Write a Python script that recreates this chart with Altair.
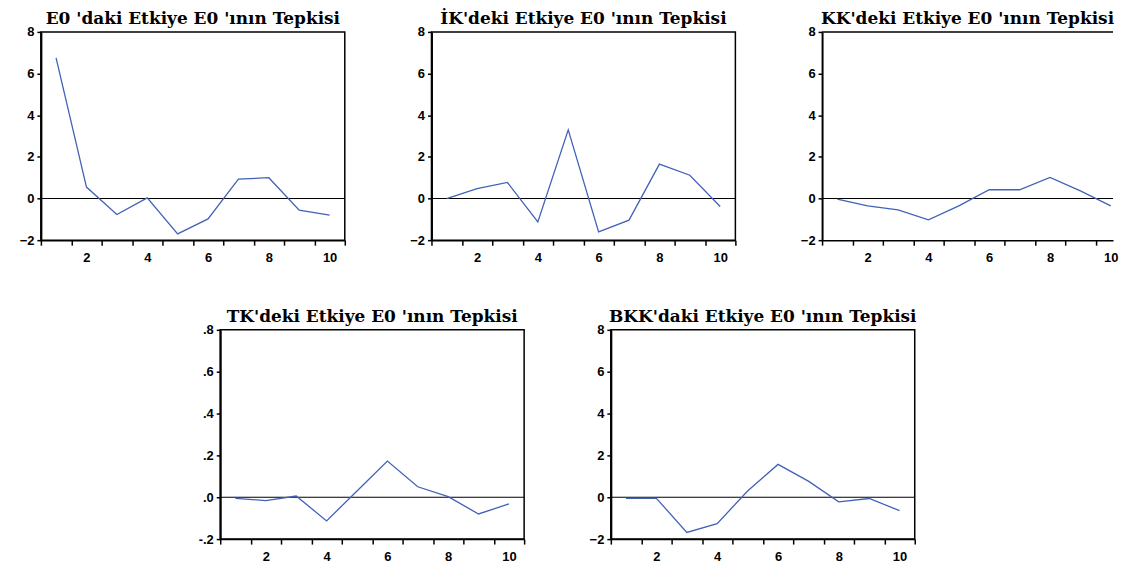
import altair as alt
import pandas as pd

periods = list(range(1, 11))

e0_resp = [6.75, 0.55, -0.77, 0.03, -1.70, -0.98, 0.93, 1.00, -0.56, -0.80]
ik_resp = [0.00, 0.48, 0.77, -1.12, 3.30, -1.60, -1.04, 1.65, 1.12, -0.38]
kk_resp = [-0.03, -0.35, -0.55, -1.02, -0.35, 0.42, 0.42, 1.01, 0.37, -0.35]
tk_resp = [-0.05, -0.16, 0.06, -1.13, 0.30, 1.73, 0.50, 0.03, -0.80, -0.32]
bkk_resp = [-0.05, -0.05, -1.68, -1.26, 0.30, 1.57, 0.77, -0.22, -0.06, -0.64]

titles = [
    "E0 'daki Etkiye E0 'ının Tepkisi",
    "İK'deki Etkiye E0 'ının Tepkisi",
    "KK'deki Etkiye E0 'ının Tepkisi",
    "TK'deki Etkiye E0 'ının Tepkisi",
    "BKK'daki Etkiye E0 'ının Tepkisi",
]

y_ticks = [-2, 0, 2, 4, 6, 8]
x_ticks = [0.5, 1.5, 2.5, 3.5, 4.5, 5.5, 6.5, 7.5, 8.5, 9.5, 10.5]

LINE_COLOR = "#4262b8"
W = 305
H = 209
UNIT = W / 10.0

x_label_expr = "(datum.value + 0.5) % 2 == 0 ? format(datum.value + 0.5, 'd') : ''"
y_label_plain = "format(datum.value, 'd')"
y_label_dot = "datum.value == 0 ? '.0' : (datum.value < 0 ? '-.' + abs(datum.value) : '.' + datum.value)"


def panel(values, title, width=W, height=H, ylab=y_label_plain, x_max=10.5, open_right=False):
    df = pd.DataFrame({"t": periods, "v": values})
    zdf = pd.DataFrame({"z": [0]})
    x_enc = alt.X(
        "t:Q",
        scale=alt.Scale(domain=[0.5, x_max], nice=False, zero=False),
        axis=alt.Axis(
            values=[v for v in x_ticks if v <= x_max],
            labelExpr=x_label_expr,
            labelOffset=UNIT / 2.0,
            labelOverlap=False,
            labelFlush=False,
            grid=False,
            title=None,
            tickSize=5,
            labelPadding=6,
            domainWidth=1.5,
        ),
    )
    y_scale = alt.Scale(domain=[-2, 8], nice=False, zero=False)
    y_axis = alt.Axis(
        values=y_ticks,
        labelExpr=ylab,
        grid=False,
        title=None,
        tickSize=4,
        labelPadding=3,
        labelFlush=False,
        domainWidth=2,
    )
    zero = alt.Chart(zdf).mark_rule(color="black", strokeWidth=1.2).encode(
        y=alt.Y("z:Q", scale=y_scale, axis=y_axis)
    )
    line = alt.Chart(df).mark_line(color=LINE_COLOR, strokeWidth=1.3).encode(
        x=x_enc, y=alt.Y("v:Q", scale=y_scale, axis=y_axis)
    )
    layers = [zero, line]
    props = dict(width=width, height=height, title=alt.TitleParams(text=title))
    if open_right:
        top = alt.Chart(zdf).mark_rule(color="black", strokeWidth=1.5).encode(
            y=alt.value(0)
        )
        layers.append(top)
        props["view"] = alt.ViewBackground(stroke="transparent")
    return alt.layer(*layers).properties(**props)


spacer = (
    alt.Chart(pd.DataFrame({"a": [0]}))
    .mark_point(opacity=0)
    .encode(x=alt.X("a:Q", axis=None), y=alt.Y("a:Q", axis=None))
    .properties(width=93, height=H, view=alt.ViewBackground(stroke="transparent"))
)

W3 = 292
row1 = alt.hconcat(
    panel(e0_resp, titles[0]),
    panel(ik_resp, titles[1]),
    panel(kk_resp, titles[2], width=W3, x_max=0.5 + W3 / UNIT, open_right=True),
    spacing=87,
    bounds="flush",
)
row2 = alt.hconcat(
    spacer,
    panel(tk_resp, titles[3], height=210, ylab=y_label_dot),
    panel(bkk_resp, titles[4], height=210),
    spacing=87,
    bounds="flush",
)

chart = (
    alt.vconcat(row1, row2, spacing=42)
    .properties(padding={"left": 10, "top": 0, "right": 0, "bottom": 0}, background="white")
    .configure_view(stroke="black", strokeWidth=1.5)
    .configure_axis(
        labelFont="Liberation Sans",
        labelFontSize=13,
        labelFontWeight="bold",
        labelColor="black",
        tickColor="black",
        domainColor="black",
        tickWidth=1.5,
    )
    .configure_title(
        font="DejaVu Serif",
        fontSize=17,
        fontWeight="bold",
        color="black",
        anchor="middle",
        offset=-2,
    )
)

chart.save("out.html", embed_options={"renderer": "svg", "actions": False})
